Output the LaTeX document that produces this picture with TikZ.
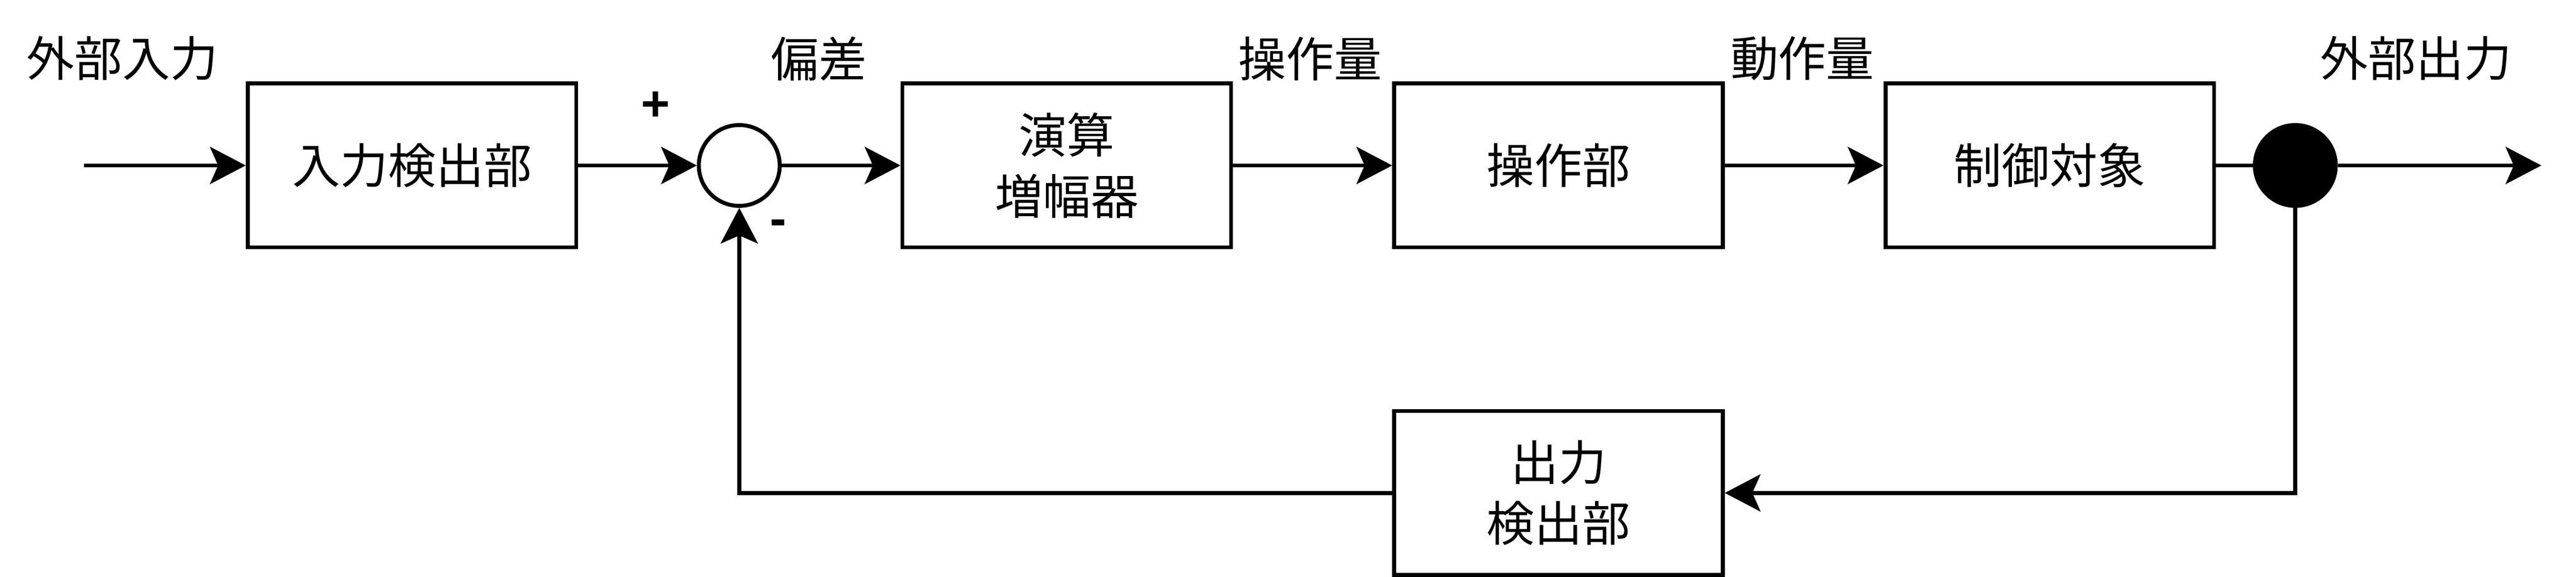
\documentclass[tikz,border=0pt]{standalone}
\usepackage{fontspec}
\setmainfont{Noto Sans CJK JP}
\newfontfamily\signfont{Liberation Sans}
\usetikzlibrary{arrows.meta}

\begin{document}
\begin{tikzpicture}[x=1pt, y=-1pt,
    font=\fontsize{29}{37}\selectfont,
    block/.style={draw, line width=2.4pt, minimum width=199pt,
      minimum height=99.3pt, inner sep=0pt, align=center},
    junction/.style={draw, circle, line width=2.4pt, minimum size=49pt,
      inner sep=0pt},
    flow/.style={line width=2.4pt,
      -{Stealth[length=21.6pt, width=22.5pt, inset=4.9pt]}},
    sign/.style={font=\signfont\bfseries\fontsize{30}{37}\selectfont}]
  \useasboundingbox (0,0) rectangle (1560,349.7);

  % main line
  \coordinate (start) at (51,100.3);
  \node[block] (inbox) at (249.5,100.3) {入力検出部};
  \node[junction] (sum) at (447.7,100.3) {};
  \node[block] (amp) at (646,100.3) {演算\\増幅器};
  \node[block] (act) at (943.8,100.3) {操作部};
  \node[block] (plant) at (1241.3,100.3) {制御対象};
  \node[junction, fill] (tap) at (1390,100.3) {};
  \coordinate (end) at (1539,100.3);
  \node[block] (fb) at (943.8,298.8) {出力\\検出部};

  % signal names
  \node (inlbl) at (74,35.5) {外部入力};
  \node (errlbl) at (496,35.5) {偏差};
  \node (manlbl) at (793.5,35.5) {操作量};
  \node (actlbl) at (1091.5,35.5) {動作量};
  \node (outlbl) at (1463,35.5) {外部出力};
  \node[sign] (plus) at (397,64.3) {+};
  \node[sign] (minus) at (471.3,138) {-};

  \path[flow]
    (start) edge (inbox)
    (inbox) edge (sum)
    (sum) edge (amp)
    (amp) edge (act)
    (act) edge (plant)
    (plant) edge[-] (tap)
    (tap) edge (end);
  \draw[flow] (tap) |- (fb);
  \draw[flow] (fb) -| (sum);
\end{tikzpicture}
\end{document}
